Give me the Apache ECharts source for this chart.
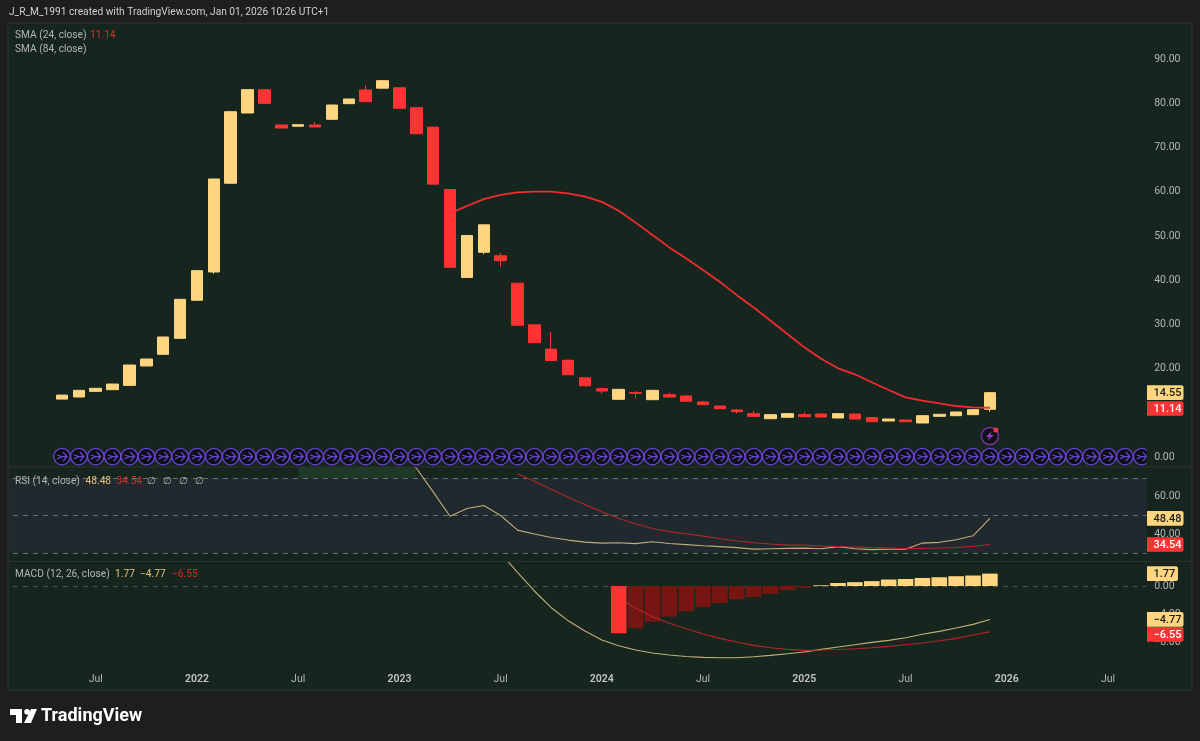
<!DOCTYPE html>
<html><head><meta charset="utf-8">
<style>html,body{margin:0;padding:0;background:#1e1e1e}#c{width:1200px;height:741px}</style>
<script src="https://cdn.jsdelivr.net/npm/echarts@6/dist/echarts.min.js"></script>
</head><body><div id="c"></div>
<script>
// Months shown on the time scale, Feb 2021 .. Sep 2026
const months = [];
for (let y = 2021, m = 2; !(y === 2026 && m === 10); m === 12 ? (y++, m = 1) : m++) {
  months.push(y + '-' + String(m).padStart(2, '0'));
}
const leadBlank = 3; // price history begins May 2021

const opens  = [13.1,13.57,14.85,15.22,16.2,20.58,23.22,26.84,35.44,41.84,61.9,77.79,83.07,75.08,74.8,75.08,76.37,79.9,83,83.4,83.5,79,74.6,60.5,40.6,46.3,45.5,39.3,29.9,24.4,21.9,17.9,15.45,13.05,14.55,12.96,14.09,13.8,12.44,11.53,10.63,9.8,8.66,8.98,9.57,9.72,8.82,9.72,8.89,8.14,8.37,7.69,9.2,9.34,9.57,10.8];
const closes = [14.0,15.08,15.53,16.5,20.8,22.16,27.14,35.66,42.13,62.87,78.09,83.07,79.97,74.4,75.15,74.63,79.6,80.96,80.35,85.1,78.85,73.1,61.7,42.9,50.1,52.5,44.4,29.8,25.85,21.8,18.6,16.1,14.93,15.3,14.4,15.08,13.57,12.6,11.83,10.93,10.25,9.2,9.57,9.8,9.11,9.05,9.8,8.59,7.98,8.59,7.98,9.34,9.66,10.18,10.7,14.55];
const lows   = [13.1,13.57,14.85,15.22,16.2,20.58,23.22,26.84,35.44,41.45,61.9,77.79,79.97,74.4,74.8,74.63,76.37,79.9,80.35,83.4,78.85,73.1,61.7,42.9,40.6,45.9,43,29.8,25.85,21.8,18.6,16.1,14.31,13.05,13.2,12.96,13.57,12.6,11.83,10.93,9.8,9.2,8.66,8.98,9.11,9.05,8.82,8.59,7.98,8.14,7.98,7.69,9.2,9.34,9.57,10.24];
const highs  = [14.0,15.08,15.53,16.5,20.8,22.16,27.14,35.66,42.13,62.87,78.09,83.07,83.07,75.08,75.15,75.76,79.6,80.96,84.1,85.1,83.5,79,74.6,60.5,50.1,52.5,46.1,39.3,29.9,28.3,21.9,17.9,15.67,15.3,14.93,15.08,14.54,14.0,12.66,11.53,10.85,10.4,9.57,9.8,10.2,9.72,9.8,9.72,8.89,8.59,8.37,9.34,9.66,10.18,10.7,14.55];
// SMA 24 starts Apr 2023
const sma24Blank = 23;
const sma24 = [55.1,56.76,58.3,59.3,59.85,60,60,59.6,58.9,57.7,55.7,53,50.2,47.4,44.9,42.3,39.6,36.6,33.8,30.8,27.8,24.8,22.2,20.05,18.7,16.9,15.15,13.5,12.73,12.14,11.53,11.24,11.14];
// RSI starts Jul 2022; everything to Jan 2023 runs above the pane
const rsiBlank = 14;
const rsi = [80,82,84,85,86,85,84,75.3,62.6,49.6,53.7,55.3,50,42.2,40.1,38.3,36.9,35.8,35.3,35.5,35,36,35.1,34.5,33.9,33.4,32.9,32.1,32.3,32.5,32.6,32.3,33.4,32.3,31.8,32,32,35.3,35.7,37.1,39.2,48.48];
const rsiMaBlank = 27;
const rsiMa = [72.3,68.2,64,59.7,55.8,52,48.4,45.6,43.1,41.4,40.3,39,37.6,36.4,35.5,34.8,34.2,34.2,33.7,33.5,33.2,32.9,32.7,32.3,32.5,32.7,32.9,33.6,34.54];
// MACD starts Jul 2023
const macdBlank = 26;
const macd = [4.7,1.96,-0.71,-3.1,-4.95,-6.43,-7.71,-8.52,-9.14,-9.57,-9.86,-10.07,-10.19,-10.24,-10.24,-10.1,-9.9,-9.67,-9.43,-9.05,-8.71,-8.38,-8.05,-7.76,-7.38,-6.9,-6.48,-6,-5.48,-4.77];
const signalBlank = 33;
const signal = [-1.82,-3.14,-4.38,-5.33,-6.1,-6.86,-7.48,-8,-8.48,-8.81,-9.05,-9.19,-9.14,-9.07,-8.95,-8.81,-8.62,-8.38,-8.14,-7.81,-7.48,-7,-6.55];
const histBlank = 33;
const hist = [-6.76,-6.05,-5.1,-4.38,-3.62,-3,-2.43,-1.9,-1.57,-1.1,-0.62,-0.25,0.1,0.43,0.55,0.7,0.93,1,1.15,1.25,1.4,1.5,1.77];
// Event marker rows
const eventMonths = months.slice(leadBlank);
const eventRowValue = 0.1;
const flashMonth = '2025-12';
const flashValue = 4.75;
// Axis ticks and labels
const priceTicks = [0,10,20,30,40,50,60,70,80,90];
const rsiTicks = [40,60];
const rsiLevels = [70,50,30];
const macdTicks = [0,-4,-8];

const UP = '#ffd580', DOWN = '#ff3333', LINE_RED = '#b3262a', LINE_TAN = '#c4ae78';
const PANEL = '#16251e', PAGE = '#1e1e1e', AXIS = '#b4b4b4', PURPLE = '#6a46d6', FRAME = '#2a2e2c';
const FONT = 'Roboto, "Noto Sans", sans-serif';

const pad = (n, a) => Array(n).fill(null).concat(a);
const candles = opens.map((o, i) => [o, closes[i], lows[i], highs[i]]);
const fmt = v => v.toFixed(2).replace('-', '\u2212');
// Bars on a falling, negative histogram sit over the signal line; the others under it
const isFalling = (v, k) => v < 0 && (k === 0 || v < hist[k - 1]);
const histOver = hist.map((v, k) => isFalling(v, k) ? v : null);
const histUnder = hist.map((v, k) => isFalling(v, k) ? null : v);

const xBase = {type:'category', data:months, boundaryGap:true, axisLine:{show:false}, axisTick:{show:false}, splitLine:{show:false}};
const yBase = {type:'value', position:'right', scale:false, splitLine:{show:false}, axisLine:{show:false}, axisTick:{show:false}, z:10,
  axisLabel:{color:AXIS, fontSize:10.5, fontFamily:FONT, margin:4, align:'left', padding:[2,0,0,0], formatter:fmt}};

const chart = echarts.init(document.getElementById('c'), null, {renderer:'canvas', width:1200, height:741});
chart.setOption({
  animation:false,
  backgroundColor:PAGE,
  grid:[
    {left:2.95, right:49.85, top:24, height:442},
    {left:2.95, right:49.85, top:467, height:94},
    {left:2.95, right:49.85, top:562, height:99}
  ],
  xAxis:[
    Object.assign({}, xBase, {gridIndex:0, axisLabel:{show:false}}),
    Object.assign({}, xBase, {gridIndex:1, axisLabel:{show:false}}),
    Object.assign({}, xBase, {gridIndex:2, z:10, axisLabel:{
      show:true, color:AXIS, fontSize:10.5, fontFamily:FONT, margin:13, hideOverlap:false,
      interval:(i, v) => v.endsWith('-01') || v.endsWith('-07'),
      formatter:v => v.endsWith('-01') ? '{y|' + v.slice(0,4) + '}' : 'Jul',
      rich:{y:{fontWeight:600, fontSize:10.5, color:'#c4c4c4', fontFamily:FONT}}
    }})
  ],
  yAxis:[
    Object.assign({}, yBase, {gridIndex:0, min:-2.035, max:97.92, axisLabel:Object.assign({}, yBase.axisLabel, {customValues:priceTicks})}),
    Object.assign({}, yBase, {gridIndex:1, min:25.75, max:75.85, axisLabel:Object.assign({}, yBase.axisLabel, {customValues:rsiTicks})}),
    Object.assign({}, yBase, {gridIndex:2, min:-10.71, max:3.43, axisLabel:Object.assign({}, yBase.axisLabel, {customValues:macdTicks})})
  ],
  series:[
    {name:'Price', type:'candlestick', xAxisIndex:0, yAxisIndex:0, barWidth:12, data:Array(leadBlank).fill('-').concat(candles),
      itemStyle:{color:UP, color0:DOWN, borderColor:UP, borderColor0:DOWN, borderWidth:1}},
    {name:'SMA 24', type:'line', xAxisIndex:0, yAxisIndex:0, showSymbol:false, data:pad(sma24Blank + leadBlank, sma24),
      lineStyle:{color:'#f22c30', width:1.8}, z:3},
    {name:'Events', type:'scatter', xAxisIndex:0, yAxisIndex:0, symbol:'circle', symbolSize:16.5, silent:true, clip:true,
      data:eventMonths.map(m => [m, eventRowValue]),
      itemStyle:{color:'#0f1016', borderColor:PURPLE, borderWidth:1.3, opacity:1}, z:3},
    {name:'Events glyph', type:'scatter', xAxisIndex:0, yAxisIndex:0, symbol:'path://M0 4 L5 5.5 L0 8 M5 5.5 L10 5.5 M6 1 L10 5.5 L6 10', symbolSize:[10,9], silent:true,
      data:eventMonths.map(m => [m, eventRowValue]),
      itemStyle:{color:'rgba(0,0,0,0)', borderColor:PURPLE, borderWidth:1.2, opacity:1}, z:4},
    {name:'Flash', type:'scatter', xAxisIndex:0, yAxisIndex:0, symbol:'circle', symbolSize:17, silent:true,
      data:[[flashMonth, flashValue]], itemStyle:{color:'#101216', borderColor:'#7d2fa6', borderWidth:1.4, opacity:1}, z:3},
    {name:'Flash glyph', type:'scatter', xAxisIndex:0, yAxisIndex:0, symbol:'path://M6 0 L0 6 L3.5 6 L1.5 10 L8 4 L4.5 4 Z', symbolSize:[8,10], silent:true,
      data:[[flashMonth, flashValue]], itemStyle:{color:'#8c3cc0', opacity:1}, z:4},
    {name:'Flash dot', type:'scatter', xAxisIndex:0, yAxisIndex:0, symbol:'circle', symbolSize:5, symbolOffset:[6,-6], silent:true,
      data:[[flashMonth, flashValue]], itemStyle:{color:'#f23645', opacity:1}, z:5},
    {name:'RSI', type:'line', xAxisIndex:1, yAxisIndex:1, showSymbol:false, data:pad(rsiBlank + leadBlank, rsi),
      lineStyle:{color:LINE_TAN, width:1.1}, z:4,
      markArea:{silent:true, z:1, data:[
        [{yAxis:70, itemStyle:{color:'#20292e'}}, {yAxis:30}],
        [{xAxis:'2022-07', yAxis:70, itemStyle:{color:'#1d3a27'}}, {xAxis:'2023-02', yAxis:75.85}]
      ]},
      markLine:{silent:true, symbol:'none', label:{show:false}, z:2,
        lineStyle:{color:'#6a7272', type:[5,5], width:1},
        data:rsiLevels.map(v => ({yAxis:v}))}},
    {name:'RSI MA', type:'line', xAxisIndex:1, yAxisIndex:1, showSymbol:false, data:pad(rsiMaBlank + leadBlank, rsiMa),
      lineStyle:{color:LINE_RED, width:1.1}, z:5},
    {name:'Histogram', type:'bar', xAxisIndex:2, yAxisIndex:2, barWidth:15.6, barGap:'-100%', data:pad(histBlank + leadBlank, histUnder), z:2,
      itemStyle:{borderWidth:0, color:p => hist[p.dataIndex - histBlank - leadBlank] >= 0 ? UP : '#761511'},
      markLine:{silent:true, symbol:'none', label:{show:false}, z:1,
        lineStyle:{color:'#4a5450', type:[5,5], width:1}, data:[{yAxis:0}]}},
    {name:'Histogram falling', type:'bar', xAxisIndex:2, yAxisIndex:2, barWidth:15.6, barGap:'-100%', data:pad(histBlank + leadBlank, histOver), z:6,
      itemStyle:{color:DOWN, borderWidth:0}},
    {name:'MACD', type:'line', xAxisIndex:2, yAxisIndex:2, showSymbol:false, data:pad(macdBlank + leadBlank, macd),
      lineStyle:{color:LINE_TAN, width:1.1}, z:4},
    {name:'Signal', type:'line', xAxisIndex:2, yAxisIndex:2, showSymbol:false, data:pad(signalBlank + leadBlank, signal),
      lineStyle:{color:LINE_RED, width:1.1}, z:5}
  ]
});

// Furniture: page, panes, texts and value tags
const rect = (x,y,w,h,fill,z,extra) => Object.assign({type:'rect', shape:{x,y,width:w,height:h}, style:{fill}, z, silent:true}, extra||{});
const txt = (x,y,text,fill,size,z,weight) => ({type:'text', x, y, z:z||22, silent:true,
  style:{text, fill, font:(weight||'400') + ' ' + (size||10.2) + 'px ' + FONT, textVerticalAlign:'middle', verticalAlign:'middle'}});
const tag = (axis, value, text, bg, fg, width, nudge) => {
  const cy = chart.convertToPixel({yAxisIndex:axis}, value) + (nudge||0);
  return [
    {type:'rect', shape:{x:1147, y:cy-7.3, width, height:14.6, r:[0,2,2,0]}, style:{fill:bg}, z:20, silent:true},
    txt(1153.5, cy + 0.5, text, fg, 11, 21, '500')
  ];
};
const grey = '#b4b4b4';
const elements = [
  rect(0,0,8,741,PAGE,8),
  rect(8,23,1139,444,PANEL,-1),
  rect(8,467,1139,195,PANEL,-1),
  rect(1146.5,23,45.5,667,PANEL,6),
  rect(8,660,1184,30,PANEL,-1),
  {type:'rect', shape:{x:8,y:23,width:1184,height:667}, style:{fill:'rgba(0,0,0,0)', stroke:FRAME, lineWidth:1.4}, z:9, silent:true},
  rect(8,466.3,1184,1.2,FRAME,7),
  rect(8,560.8,1184,1.2,FRAME,7),
  txt(9,12.5,'J_R_M_1991 created with TradingView.com, Jan 01, 2026 10:26 UTC+1','#cfcfcf'),
  txt(15,35.5,'SMA (24, close)',grey),
  txt(90,35.5,'11.14','#d92b2b'),
  txt(15,49.5,'SMA (84, close)',grey),
  txt(15,481.5,'RSI (14, close)',grey),
  txt(85.5,481.5,'48.48','#e8c27c'),
  txt(116.5,481.5,'34.54','#d92b2b'),
  txt(147,481.5,'\u2205',grey), txt(163,481.5,'\u2205',grey), txt(179,481.5,'\u2205',grey), txt(195,481.5,'\u2205',grey),
  txt(15,574.5,'MACD (12, 26, close)',grey),
  txt(115,574.5,'1.77','#e8c27c'),
  txt(140,574.5,'\u22124.77','#e8c27c'),
  txt(172,574.5,'\u22126.55','#d92b2b'),
  {type:'polygon', shape:{points:[[10,709],[22,709],[22,723],[16,723],[16,715],[10,715]]}, style:{fill:'#ffffff'}, z:22, silent:true},
  {type:'circle', shape:{cx:27,cy:711.8,r:2.8}, style:{fill:'#ffffff'}, z:22, silent:true},
  {type:'polygon', shape:{points:[[31,709],[37,709],[31,723],[24,723]]}, style:{fill:'#ffffff'}, z:22, silent:true},
  txt(41,716,'TradingView','#ffffff',18,22,'700')
];
elements.push(
  ...tag(0, 14.55, '14.55', UP, '#1a1a1a', 36.5),
  ...tag(0, 11.14, '11.14', DOWN, '#ffffff', 36.5, 0.8),
  ...tag(1, 48.48, '48.48', UP, '#1a1a1a', 36.5),
  ...tag(1, 34.54, '34.54', DOWN, '#ffffff', 36.5),
  ...tag(2, 1.77, '1.77', UP, '#1a1a1a', 31),
  ...tag(2, -4.77, '\u22124.77', UP, '#1a1a1a', 36.5),
  ...tag(2, -6.55, '\u22126.55', DOWN, '#ffffff', 36.5, 2.5)
);
chart.setOption({graphic:{elements}});
</script></body></html>
